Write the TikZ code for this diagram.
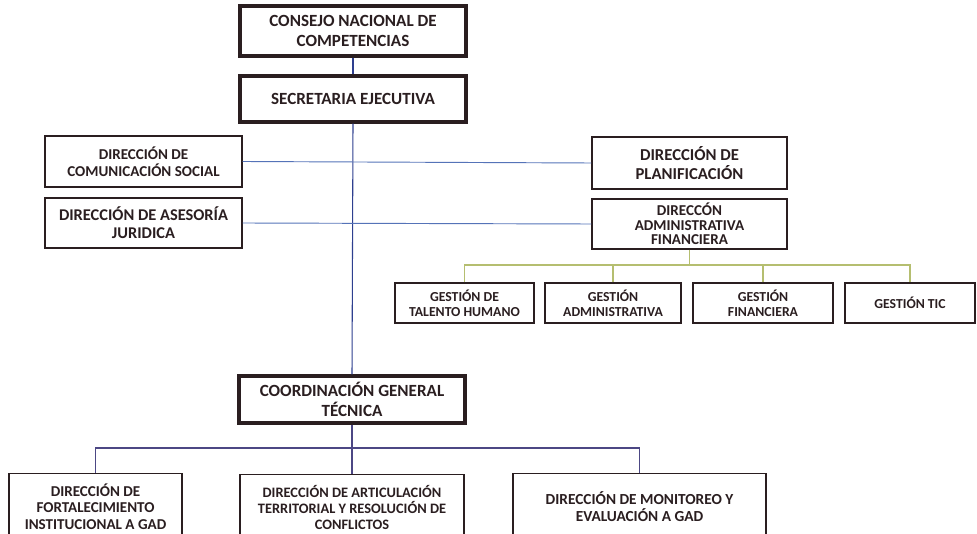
\documentclass[tikz,border=0pt]{standalone}
\usepackage{fontspec}
\setmainfont{Carlito}
\usetikzlibrary{positioning}
\definecolor{mainColor}{HTML}{2E3F8F}
\definecolor{staffColor}{HTML}{5573B8}
\definecolor{admColor}{HTML}{B5BE70}
\definecolor{tecColor}{HTML}{4C4784}
\definecolor{inkColor}{HTML}{2A1E20}
\begin{document}
\begin{tikzpicture}[x=0.75pt,y=-0.75pt,
		unit/.style={draw=inkColor, rectangle, line width=1pt, fill=white, align=center, text=inkColor,
			inner sep=1pt, font=\bfseries\fontsize{11.3}{12.5}\selectfont},
		head/.style={unit, line width=2.3pt, font=\bfseries\fontsize{12.8}{14.5}\selectfont},
		gest/.style={unit, font=\bfseries\fontsize{10.3}{11.5}\selectfont}]
		\useasboundingbox (0,0) rectangle (977,534);
		% top of the chart
		\node[head, minimum width=169.5pt, minimum height=37.5pt] (cnc) at (353, 31) {CONSEJO NACIONAL DE\\COMPETENCIAS};
		\node[head, minimum width=169.5pt, minimum height=34.5pt] (se) at (353, 99) {SECRETARIA EJECUTIVA};
		% staff units
		\node[unit, minimum width=147.75pt, minimum height=38.25pt] (dcs) at (143.5, 161.5) {DIRECCIÓN DE\\COMUNICACIÓN SOCIAL};
		\node[unit, minimum width=147.75pt, minimum height=37.5pt, font=\bfseries\fontsize{12.3}{13.5}\selectfont] (daj) at (143.5, 223) {DIRECCIÓN DE ASESORÍA\\JURIDICA};
		\node[unit, minimum width=146.25pt, minimum height=39pt, font=\bfseries\fontsize{12.5}{14}\selectfont] (dp) at (689.5, 163) {DIRECCIÓN DE\\PLANIFICACIÓN};
		\node[unit, minimum width=146.25pt, minimum height=37.5pt, font=\bfseries\fontsize{11.3}{11}\selectfont] (daf) at (689.5, 224) {DIRECCÓN\\ADMINISTRATIVA\\FINANCIERA};
		% gestion units
		\node[gest, minimum width=104.25pt, minimum height=30pt] (gth) at (464.5, 303) {GESTIÓN DE\\TALENTO HUMANO};
		\node[gest, minimum width=102pt, minimum height=30pt] (gad) at (613, 303) {GESTIÓN\\ADMINISTRATIVA};
		\node[gest, minimum width=105pt, minimum height=30pt] (gfi) at (763, 303) {GESTIÓN\\FINANCIERA};
		\node[gest, minimum width=97.5pt, minimum height=30pt] (gtic) at (910, 303) {GESTIÓN TIC};
		% technical units
		\node[head, minimum width=169.5pt, minimum height=35.25pt] (cgt) at (352, 399.5) {COORDINACIÓN GENERAL\\TÉCNICA};
		\node[unit, minimum width=129.75pt, minimum height=50pt] (dfi) at (95.5, 506.5) {DIRECCIÓN DE\\FORTALECIMIENTO\\INSTITUCIONAL A GAD};
		\node[unit, minimum width=168pt, minimum height=50pt, font=\bfseries\fontsize{10.8}{12}\selectfont] (dat) at (352, 507.5) {DIRECCIÓN DE ARTICULACIÓN\\TERRITORIAL Y RESOLUCIÓN DE\\CONFLICTOS};
		\node[unit, minimum width=189.75pt, minimum height=50pt, font=\bfseries\fontsize{11.5}{12.5}\selectfont] (dme) at (639.5, 506.5) {DIRECCIÓN DE MONITOREO Y\\EVALUACIÓN A GAD};
		% connectors
		\draw[mainColor, line width=0.8pt] (cnc.south) -- (se.north);
		\draw[mainColor, line width=0.8pt] (se.south) -- (cgt.north);
		\draw[staffColor, line width=0.7pt] (dcs.east) -- (dp.west);
		\draw[staffColor, line width=0.7pt] (daj.east) -- (daf.west);
		\coordinate (admbus) at (689.5, 265);
		\draw[admColor, line width=0.8pt] (daf.south) -- (admbus);
		\draw[admColor, line width=0.8pt] (gth.north) |- (admbus) -| (gtic.north);
		\draw[admColor, line width=0.8pt] (gad.north) -- (gad.north |- admbus);
		\draw[admColor, line width=0.8pt] (gfi.north) -- (gfi.north |- admbus);
		\coordinate (tecbus) at (352, 448);
		\draw[tecColor, line width=0.8pt] (cgt.south) -- (dat.north);
		\draw[tecColor, line width=0.8pt] (dfi.north) |- (tecbus) -| (dme.north);
	\end{tikzpicture}
\end{document}
